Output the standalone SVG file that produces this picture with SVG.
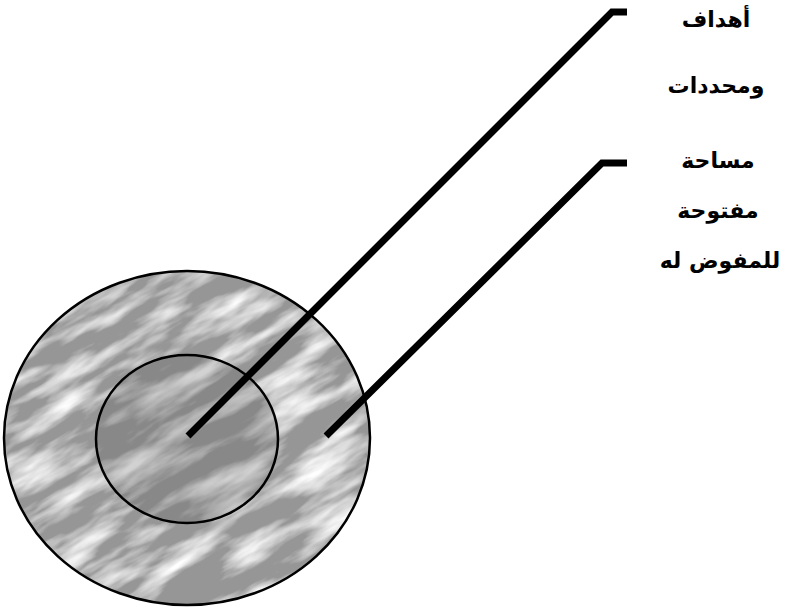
<svg xmlns="http://www.w3.org/2000/svg" width="785" height="610" viewBox="0 0 785 610">
<style>
.ring{stroke:#000;stroke-width:2.5;fill:none}
.lead{stroke:#000;stroke-width:7;fill:none;stroke-linejoin:miter;stroke-linecap:butt}
.lbl{font-family:"DejaVu Sans","Noto Sans",sans-serif;font-weight:bold;font-size:22px;fill:#000;text-anchor:middle}
</style>
<defs>
<filter id="mottle" x="0" y="0" width="100%" height="100%">
<feTurbulence type="fractalNoise" baseFrequency="0.012 0.05" numOctaves="4" seed="7" result="n"/>
<feColorMatrix in="n" type="matrix" values="0 0 0 0 0  0 0 0 0 0  0 0 0 0 0  2.4 0 0 0 -1.0" result="w"/>
<feFlood flood-color="#ffffff" result="wf"/>
<feComposite in="wf" in2="w" operator="in" result="ws"/>
<feMerge><feMergeNode in="SourceGraphic"/><feMergeNode in="ws"/></feMerge>
<feComposite in2="SourceGraphic" operator="in"/>
</filter>
<clipPath id="outer"><ellipse cx="187" cy="438" rx="183" ry="167"/></clipPath>
</defs>
<g id="outer-area">
<g clip-path="url(#outer)">
<rect x="-150" y="150" width="680" height="580" fill="#969696" filter="url(#mottle)" transform="rotate(-30 187 438)"/>
<ellipse cx="187" cy="439" rx="91" ry="84" fill="#6a6a6a" opacity="0.3"/>
</g>
<ellipse class="ring" cx="187" cy="438" rx="183" ry="167"/>
</g>
<g id="inner-area">
<ellipse class="ring" cx="187" cy="439" rx="91" ry="84"/>
</g>
<g id="connectors">
<polyline class="lead" points="188,436 612,12 627,12"/>
<polyline class="lead" points="326,436 602,163 627,163"/>
</g>
<g id="label-goals">
<text class="lbl" x="716" y="27">أهداف</text>
<text class="lbl" x="716" y="93">ومحددات</text>
</g>
<g id="label-open">
<text class="lbl" x="718" y="168">مساحة</text>
<text class="lbl" x="718" y="218">مفتوحة</text>
<text class="lbl" x="720" y="268">للمفوض له</text>
</g>
</svg>
